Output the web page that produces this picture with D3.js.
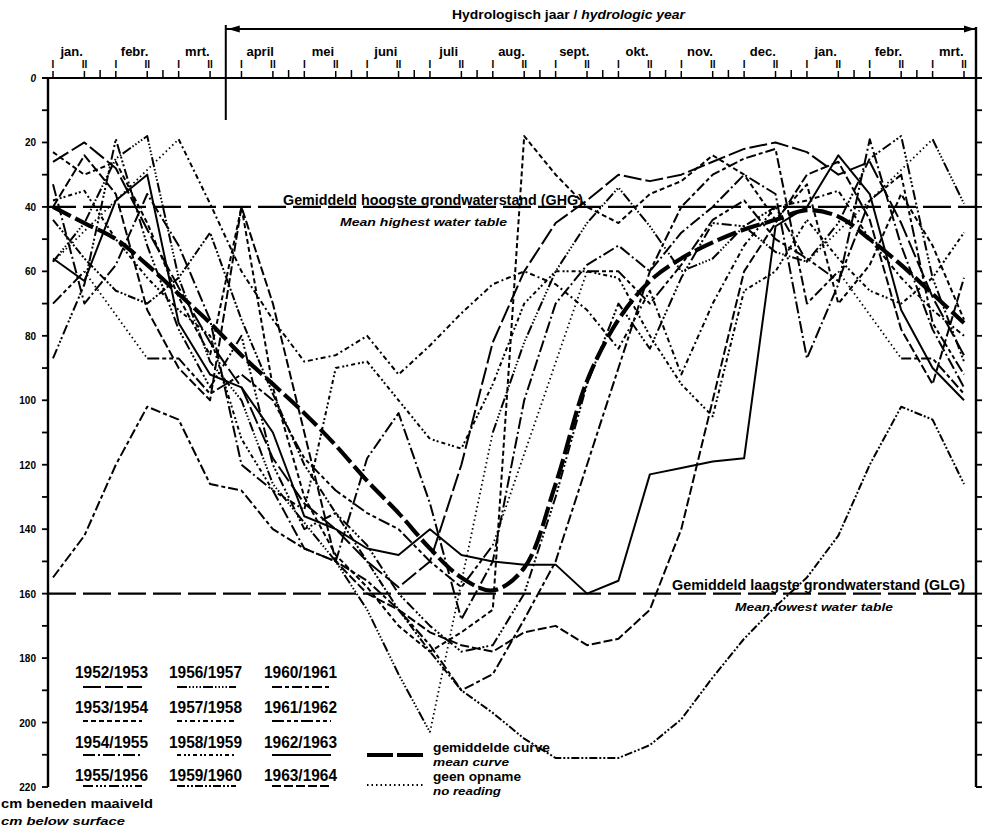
<!DOCTYPE html>
<html>
<head>
<meta charset="utf-8">
<script src="https://cdn.jsdelivr.net/npm/d3@7"></script>
<style>
  html, body { margin: 0; padding: 0; background: #fff; }
  svg { display: block; }
  text { font-family: "Liberation Sans Narrow", "Arial Narrow", "Liberation Sans", Arial, sans-serif; font-weight: bold; fill: #000; }
  .it { font-style: italic; }
</style>
</head>
<body>
<svg id="chart" width="986" height="829"></svg>
<script>
// Month labels along the top (January of the first year to March of the next)
const months = ["jan.", "febr.", "mrt.", "april", "mei", "juni", "juli", "aug.", "sept.", "okt.", "nov.", "dec.", "jan.", "febr.", "mrt."];
const halves = ["I", "II"];
const depthTicks = [0, 20, 40, 60, 80, 100, 120, 140, 160, 180, 200, 220];

// Readings January–March (I and II per month) for each calendar year, cm below surface
const jm1952 = [26, 20, 28, 47, 65, 82];
const jm1953 = [23, 30, 26, 45, 68, 86];
const jm1954 = [33, 70, 58, 36, 52, 75];
const jm1955 = [87, 64, 19, 52, 78, 96];
const jm1956 = [57, 45, 25, 18, 62, 88];
const jm1957 = [57, null, null, null, 19, 39];
const jm1958 = [38, 35, 50, 62, 72, 80];
const jm1959 = [44, 56, 66, 70, 62, 48];
const jm1960 = [155, 142, 120, 102, 106, 126];
const jm1961 = [70, 60, null, 87, 87, 98];
const jm1962 = [56, 63, 38, 30, 76, 92];
const jm1963 = [40, 24, 36, 72, 90, 100];
const jm1964 = [30, 26, 44, 78, 95, 62];

// Readings April–December (I and II per month) for each hydrologic year
const ad1952 = [96, 118, 132, 140, 150, 158, 150, 120, 82, 60, 45, 38, 30, 32, 30, 26, 22, 20];
const ad1953 = [40, 96, 130, 148, 158, 170, 178, 172, 165, 18, 30, 40, 45, 36, 32, 24, 30, 44];
const ad1954 = [120, 128, 146, 150, 118, 104, 132, 168, 150, 100, 70, 58, 52, 60, 48, 40, 30, 36];
const ad1955 = [80, 120, 140, 135, 145, 160, 170, 178, 176, 160, 130, 95, 70, 84, 62, 45, 46, 40];
const ad1956 = [100, 126, 138, 150, 165, 185, 203, null, 110, 82, 60, 45, 34, 46, 60, 56, 46, 54];
const ad1957 = [60, 75, 88, 86, 80, 92, 83, 73, 64, 60, 64, 72, 84, 66, 92, 70, 52, 40];
const ad1958 = [112, 128, 134, 90, 88, 100, 112, 115, 95, 70, 60, 60, 62, 80, 95, 105, 66, 60];
const ad1959 = [75, 98, 120, 135, 150, 165, 178, 190, 197, 205, 211, 211, 211, 207, 199, 186, 174, 164];
const ad1960 = [128, 140, 146, 150, 156, 165, 176, 190, 185, 168, 150, 120, 90, 60, 40, 30, 25, 22];
const ad1961 = [92, 100, 118, 128, 135, 140, 150, 158, 145, null, null, 60, 60, 70, 58, 44, 38, 50];
const ad1962 = [96, 110, 136, 140, 146, 148, 140, 148, 150, 151, 151, 160, 156, 123, 121, 119, 118, 46];
const ad1963 = [40, 70, 110, 150, 160, 165, 172, 176, 178, 172, 170, 176, 174, 165, 140, 100, 60, 45];

// Mean curve over all years
const meanCurve = [40, 45, 50, 58, 67, 76, 86, 95, 104, 114, 125, 135, 146, 155, 159, 152, 126, 94, 75, 63, 56, 51, 47, 44, 41, 43, 50, 58, 67, 76];

const seasons = ["1952/1953", "1953/1954", "1954/1955", "1955/1956", "1956/1957", "1957/1958",
                 "1958/1959", "1959/1960", "1960/1961", "1961/1962", "1962/1963", "1963/1964"];
const ghg = 40, glg = 160;

const janMar = [jm1952, jm1953, jm1954, jm1955, jm1956, jm1957, jm1958, jm1959, jm1960, jm1961, jm1962, jm1963, jm1964];
const aprDec = [ad1952, ad1953, ad1954, ad1955, ad1956, ad1957, ad1958, ad1959, ad1960, ad1961, ad1962, ad1963];

// Line style of each season
const dashes = ["18,4", "5,3", "12,3,2,3", "10,3,2,2,2,2,2,3", "10,2,1.5,2,1.5,2,1.5,2,1.5,2", "5,3,2,3",
                "4,3,2,2,2,3", "8,2,2,2,2,2", "10,3,4,3", "12,3,4,3,4,3", null, "9,3"];

const svg = d3.select("#chart");
const x = d3.scaleLinear().domain([0, 29]).range([53, 964]);
const y = d3.scaleLinear().domain([0, 220]).range([78, 787]);
const leftX = 48, rightX = 976;

// Series: Jan–Mar of the first year, Apr–Dec, Jan–Mar of the next year
const series = seasons.map((s, k) => {
  const vals = [...janMar[k], ...aprDec[k], ...janMar[k + 1]];
  return { name: s, dash: dashes[k], pts: vals.map((v, i) => ({ i, v })) };
});

const plot = svg.append("g");
const line = d3.line().defined(d => d.v != null).x(d => x(d.i)).y(d => y(d.v));

series.forEach(s => {
  plot.append("path")
    .attr("d", line(s.pts))
    .attr("fill", "none").attr("stroke", "#000").attr("stroke-width", 2)
    .attr("stroke-dasharray", s.dash)
    .attr("stroke-linejoin", "round");
  // missing readings: dotted bridge between the surrounding readings
  const p = s.pts;
  for (let i = 1; i < p.length; i++) {
    if (p[i].v == null && p[i - 1].v != null) {
      let j = i;
      while (j < p.length && p[j].v == null) j++;
      if (j < p.length) {
        plot.append("line")
          .attr("x1", x(p[i - 1].i)).attr("y1", y(p[i - 1].v))
          .attr("x2", x(p[j].i)).attr("y2", y(p[j].v))
          .attr("stroke", "#000").attr("stroke-width", 1.8)
          .attr("stroke-dasharray", "1.5,3");
      }
    }
  }
});

// Mean curve
plot.append("path")
  .attr("d", d3.line().x((d, i) => x(i)).y(d => y(d)).curve(d3.curveCatmullRom)(meanCurve))
  .attr("fill", "none").attr("stroke", "#000").attr("stroke-width", 4.2)
  .attr("stroke-dasharray", "20,5");

// GHG and GLG reference lines
[ghg, glg].forEach(v => {
  svg.append("line").attr("x1", leftX).attr("x2", rightX).attr("y1", y(v)).attr("y2", y(v))
    .attr("stroke", "#000").attr("stroke-width", 2.3).attr("stroke-dasharray", "28,7");
});

svg.append("text").attr("x", 283).attr("y", 205).attr("font-size", 15)
  .attr("textLength", 300).attr("lengthAdjust", "spacingAndGlyphs")
  .text("Gemiddeld hoogste grondwaterstand (GHG)");
svg.append("text").attr("class", "it").attr("x", 340).attr("y", 226).attr("font-size", 11)
  .attr("textLength", 167).attr("lengthAdjust", "spacingAndGlyphs")
  .text("Mean highest water table");
svg.append("text").attr("x", 672).attr("y", 590).attr("font-size", 15)
  .attr("textLength", 293).attr("lengthAdjust", "spacingAndGlyphs")
  .text("Gemiddeld laagste grondwaterstand (GLG)");
svg.append("text").attr("class", "it").attr("x", 735).attr("y", 611).attr("font-size", 11)
  .attr("textLength", 158).attr("lengthAdjust", "spacingAndGlyphs")
  .text("Mean lowest water table");

// Axes frame
const ax = svg.append("g").attr("stroke", "#000");
ax.append("line").attr("x1", leftX - 6).attr("x2", rightX + 6).attr("y1", y(0)).attr("y2", y(0)).attr("stroke-width", 2.2);
ax.append("line").attr("x1", leftX).attr("x2", leftX).attr("y1", y(0)).attr("y2", y(220)).attr("stroke-width", 2.4);
ax.append("line").attr("x1", rightX).attr("x2", rightX).attr("y1", 27).attr("y2", y(220)).attr("stroke-width", 2.4);
ax.append("line").attr("x1", rightX).attr("x2", rightX + 5).attr("y1", y(220)).attr("y2", y(220)).attr("stroke-width", 2);

// Depth ticks every 10 cm on both sides, labels every 20 cm on the left
d3.range(0, 221, 10).forEach(v => {
  ax.append("line").attr("x1", leftX - 6).attr("x2", leftX).attr("y1", y(v)).attr("y2", y(v)).attr("stroke-width", 1.8);
  if (v > 0) ax.append("line").attr("x1", rightX).attr("x2", rightX + 6).attr("y1", y(v)).attr("y2", y(v)).attr("stroke-width", 1.8);
});
svg.append("g").selectAll("text").data(depthTicks).join("text")
  .attr("x", 36).attr("y", d => y(d) + 4).attr("text-anchor", "end").attr("font-size", 10)
  .attr("class", d => d === 0 ? "it" : null)
  .text(d => d);

// Month labels, I / II marks and month separators
const monthAxis = svg.append("g");
months.forEach((m, k) => {
  monthAxis.append("text").attr("x", x(2 * k + 0.5) + 3).attr("y", 56).attr("text-anchor", "middle")
    .attr("font-size", 13).text(m);
  halves.forEach((h, j) => {
    const xi = x(2 * k + j);
    monthAxis.append("text").attr("x", xi).attr("y", 68).attr("text-anchor", "middle").attr("font-size", 10).text(h);
    monthAxis.append("line").attr("x1", xi).attr("x2", xi).attr("y1", 71).attr("y2", 78).attr("stroke", "#000").attr("stroke-width", 1.5);
  });
  if (k < months.length - 1 && k !== 2) {
    const xs = x(2 * k + 1.5);
    monthAxis.append("line").attr("x1", xs).attr("x2", xs).attr("y1", 70).attr("y2", 78).attr("stroke", "#000").attr("stroke-width", 1.5);
  }
});

// Start of the hydrologic year and its bracket
const hx = x(5.5);
svg.append("line").attr("x1", hx).attr("x2", hx).attr("y1", 25).attr("y2", 120).attr("stroke", "#000").attr("stroke-width", 2);
svg.append("line").attr("x1", hx).attr("x2", rightX).attr("y1", 29).attr("y2", 29).attr("stroke", "#000").attr("stroke-width", 1.8);
svg.append("path").attr("d", `M${hx + 2},29 L${hx + 14},25.5 L${hx + 14},32.5 Z`).attr("fill", "#000");
svg.append("path").attr("d", `M${rightX - 1},29 L${rightX - 12},25.5 L${rightX - 12},32.5 Z`).attr("fill", "#000");
const ht = svg.append("text").attr("x", 452).attr("y", 19).attr("font-size", 13)
  .attr("textLength", 233).attr("lengthAdjust", "spacingAndGlyphs");
ht.append("tspan").text("Hydrologisch jaar / ");
ht.append("tspan").attr("class", "it").text("hydrologic year");

// Unit label
svg.append("text").attr("x", 1).attr("y", 808).attr("font-size", 12)
  .attr("textLength", 152).attr("lengthAdjust", "spacingAndGlyphs").text("cm beneden maaiveld");
svg.append("text").attr("class", "it").attr("x", 1).attr("y", 825).attr("font-size", 11)
  .attr("textLength", 124).attr("lengthAdjust", "spacingAndGlyphs").text("cm below surface");

// Legend of the seasons
const colX = [112, 206, 301];
const rowY = [678, 713, 748, 781];
const sampleY = [687, 721, 755, 786];
const lg = svg.append("g");
seasons.forEach((s, k) => {
  const c = Math.floor(k / 4), r = k % 4;
  lg.append("text").attr("x", colX[c] - 37).attr("y", rowY[r]).attr("font-size", 16)
    .attr("textLength", 73).attr("lengthAdjust", "spacingAndGlyphs").text(s);
  lg.append("line").attr("x1", colX[c] - 29).attr("x2", colX[c] + 30)
    .attr("y1", sampleY[r]).attr("y2", sampleY[r])
    .attr("stroke", "#000").attr("stroke-width", 1.9).attr("stroke-dasharray", dashes[k]);
});
lg.append("line").attr("x1", 367).attr("x2", 425).attr("y1", 755).attr("y2", 755)
  .attr("stroke", "#000").attr("stroke-width", 4.2).attr("stroke-dasharray", "26,4");
lg.append("line").attr("x1", 367).attr("x2", 425).attr("y1", 785).attr("y2", 785)
  .attr("stroke", "#000").attr("stroke-width", 1.8).attr("stroke-dasharray", "1.5,3");
lg.append("text").attr("x", 433).attr("y", 752).attr("font-size", 13)
  .attr("textLength", 117).attr("lengthAdjust", "spacingAndGlyphs").text("gemiddelde curve");
lg.append("text").attr("class", "it").attr("x", 433).attr("y", 766).attr("font-size", 11)
  .attr("textLength", 76).attr("lengthAdjust", "spacingAndGlyphs").text("mean curve");
lg.append("text").attr("x", 433).attr("y", 781).attr("font-size", 13)
  .attr("textLength", 88).attr("lengthAdjust", "spacingAndGlyphs").text("geen opname");
lg.append("text").attr("class", "it").attr("x", 433).attr("y", 795).attr("font-size", 11)
  .attr("textLength", 68).attr("lengthAdjust", "spacingAndGlyphs").text("no reading");
</script>
</body>
</html>
